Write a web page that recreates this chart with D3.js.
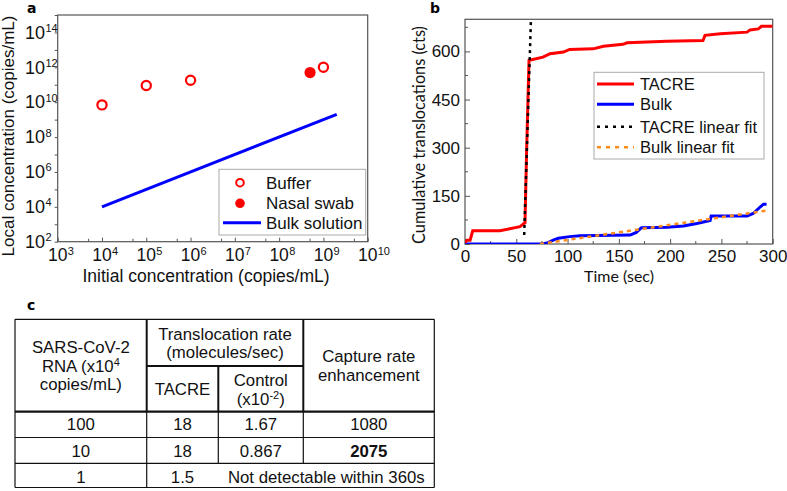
<!DOCTYPE html>
<html><head><meta charset="utf-8">
<script src="https://cdn.jsdelivr.net/npm/d3@7"></script>
<style>
body{margin:0;background:#fff;}
svg{display:block;font-family:"Liberation Sans",Arial,sans-serif;}
</style></head>
<body>
<svg id="c" width="787" height="491"></svg>
<script>
// ---------- Panel a data ----------
const bufferX = [1e4, 1e5, 1e6, 1e9];
const bufferY = [7e9, 9e10, 1.8e11, 1e12];
const swabX = [5e8];
const swabY = [5e11];
const bulkSolX = [1e4, 2e9];
const bulkSolY = [1e4, 2e9];
const aXTicks = [1e3,1e4,1e5,1e6,1e7,1e8,1e9,1e10];
const aYTicks = [1e2,1e4,1e6,1e8,1e10,1e12,1e14];
const aLegend = ["Buffer","Nasal swab","Bulk solution"];

// ---------- Panel b data ----------
const tacreT = [0,2.2,5,7.5,34,49,53.6,57.5,58.5,60,62.4,65,76,83,96,102,125,135,154,158,197,232,234,249,275,278,286,289,300];
const tacreY = [5,12,12,41,41,51,54,64,66,282,572,574,582,593,598,606,608,616,622,627,632,634,650,655,660,667,670,678,678];
const bulkT = [0,75,80,86,91,102,112,161,167,172,197,213,226,239,240,275,281,288,291,294];
const bulkY = [0,0,3,12,18,23,26,28,36,51,52,56,64,73,87,87,95,116,124,124];
const tacreFitT = [57.7, 64.3];
const tacreFitY = [28, 700];
const bulkFitT = [73, 294];
const bulkFitY = [0, 104];
const bXTicks = [0,50,100,150,200,250,300];
const bYTicks = [0,150,300,450,600];
const bLegend = ["TACRE","Bulk","TACRE linear fit","Bulk linear fit"];

// ---------- Panel c data ----------
const tableRows = [["100","18","1.67","1080"],["10","18","0.867","2075"],["1","1.5","Not detectable within 360s"]];

const svg = d3.select("#c");
const axisCol = "#555";

// ================= PANEL A =================
const ax = d3.scaleLog().domain([1e3,1e10]).range([57.7,367.7]);
const ay = d3.scaleLog().domain([1e2,1e15]).range([241.7,15]);
const ga = svg.append("g");
ga.append("rect").attr("x",ax.range()[0]).attr("y",ay.range()[1])
  .attr("width",ax.range()[1]-ax.range()[0]).attr("height",ay.range()[0]-ay.range()[1])
  .attr("fill","none").attr("stroke",axisCol).attr("stroke-width",1.2);
const axMinor = [5e3,5e4,5e5,5e6,5e7,5e8,5e9];
const gax = ga.append("g").attr("transform",`translate(0,${ay.range()[0]})`)
  .call(d3.axisBottom(ax).tickValues(aXTicks).tickSizeInner(-4).tickSizeOuter(0).tickFormat(""));
gax.select(".domain").remove();
gax.selectAll("line").attr("stroke",axisCol);
axMinor.forEach(v=>ga.append("line").attr("x1",ax(v)).attr("x2",ax(v)).attr("y1",ay.range()[0]).attr("y2",ay.range()[0]-3).attr("stroke",axisCol));
aXTicks.forEach(v=>{
  const e = Math.round(Math.log10(v));
  ga.append("text").attr("x",ax(v)).attr("y",261).attr("text-anchor","middle").attr("font-size",17.5).attr("fill","#111").text("10");
  ga.append("text").attr("x",ax(v)+10).attr("y",254.5).attr("font-size",11).attr("fill","#111").text(e);
});
const ayAll = d3.range(2,16).map(e=>Math.pow(10,e));
const gay = ga.append("g").attr("transform",`translate(${ax.range()[0]},0)`)
  .call(d3.axisLeft(ay).tickValues(ayAll).tickSizeInner(3).tickSizeOuter(0).tickFormat(""));
gay.select(".domain").remove();
gay.selectAll("line").attr("stroke",axisCol);
aYTicks.forEach(v=>{
  const e = Math.round(Math.log10(v));
  ga.append("text").attr("x",45).attr("y",ay(v)+6.3).attr("text-anchor","end").attr("font-size",18).attr("fill","#111").text("10");
  ga.append("text").attr("x",45.5).attr("y",ay(v)-0.5).attr("font-size",11).attr("fill","#111").text(e);
});
ga.append("text").attr("transform",`translate(13.5,136) rotate(-90)`).attr("text-anchor","middle")
  .attr("font-size",17).attr("fill","#111").text("Local concentration (copies/mL)");
ga.append("text").attr("x",206).attr("y",281.5).attr("text-anchor","middle")
  .attr("font-size",17.5).attr("fill","#111").text("Initial concentration (copies/mL)");
ga.append("path").datum(bulkSolX.map((x,i)=>[x,bulkSolY[i]]))
  .attr("d",d3.line().x(d=>ax(d[0])).y(d=>ay(d[1])))
  .attr("fill","none").attr("stroke","#0000ff").attr("stroke-width",3);
ga.selectAll(".buf").data(bufferX.map((x,i)=>[x,bufferY[i]])).enter().append("circle")
  .attr("cx",d=>ax(d[0])).attr("cy",d=>ay(d[1])).attr("r",4.6)
  .attr("fill","#fff").attr("stroke","#ff0000").attr("stroke-width",2.2);
ga.selectAll(".swab").data(swabX.map((x,i)=>[x,swabY[i]])).enter().append("circle")
  .attr("cx",d=>ax(d[0])).attr("cy",d=>ay(d[1])).attr("r",5.6).attr("fill","#ff0000");
ga.append("rect").attr("x",219).attr("y",169.3).attr("width",146.7).attr("height",65.7)
  .attr("fill","#fff").attr("stroke","#aaa").attr("stroke-width",1);
const aLegY = [182.7,203.3,222.7];
ga.append("circle").attr("cx",240).attr("cy",aLegY[0]).attr("r",3.8).attr("fill","#fff").attr("stroke","#ff0000").attr("stroke-width",2);
ga.append("circle").attr("cx",240).attr("cy",aLegY[1]).attr("r",4.8).attr("fill","#ff0000");
ga.append("line").attr("x1",223).attr("x2",261).attr("y1",aLegY[2]).attr("y2",aLegY[2]).attr("stroke","#0000ff").attr("stroke-width",3);
aLegend.forEach((s,i)=>ga.append("text").attr("x",266).attr("y",aLegY[i]+6).attr("font-size",17).attr("fill","#111").text(s));
svg.append("text").attr("x",27).attr("y",12.5).attr("font-size",14).attr("font-weight","bold").attr("font-family","'DejaVu Sans',sans-serif").text("a");

// ================= PANEL B =================
const bx = d3.scaleLinear().domain([0,300]).range([465,772.7]);
const by = d3.scaleLinear().domain([0,700]).range([244,19.3]);
const gb = svg.append("g");
gb.append("defs").append("clipPath").attr("id","bclip").append("rect")
  .attr("x",bx.range()[0]).attr("y",by.range()[1]).attr("width",bx.range()[1]-bx.range()[0]).attr("height",by.range()[0]-by.range()[1]);
gb.append("rect").attr("x",bx.range()[0]).attr("y",by.range()[1])
  .attr("width",bx.range()[1]-bx.range()[0]).attr("height",by.range()[0]-by.range()[1])
  .attr("fill","none").attr("stroke",axisCol).attr("stroke-width",1.2);
const gbx = gb.append("g").attr("transform",`translate(0,${by.range()[0]})`)
  .call(d3.axisBottom(bx).tickValues(bXTicks).tickSizeInner(-5).tickSizeOuter(0).tickPadding(0));
gbx.select(".domain").remove();
gbx.selectAll("line").attr("stroke",axisCol);
gbx.selectAll("text").attr("font-size",17).attr("fill","#111").attr("font-family","'Liberation Sans',Arial,sans-serif").attr("y",18).attr("dy",null);
d3.range(25,300,50).forEach(v=>gb.append("line").attr("x1",bx(v)).attr("x2",bx(v)).attr("y1",by(0)).attr("y2",by(0)-3).attr("stroke",axisCol));
const gby = gb.append("g").attr("transform",`translate(${bx.range()[0]},0)`)
  .call(d3.axisLeft(by).tickValues(bYTicks).tickSizeInner(-5).tickSizeOuter(0).tickPadding(5));
gby.select(".domain").remove();
gby.selectAll("line").attr("stroke",axisCol);
gby.selectAll("text").attr("font-size",17).attr("fill","#111").attr("font-family","'Liberation Sans',Arial,sans-serif");
d3.range(75,700,150).forEach(v=>gb.append("line").attr("x1",bx(0)).attr("x2",bx(0)+3).attr("y1",by(v)).attr("y2",by(v)).attr("stroke",axisCol));
gb.append("text").attr("transform",`translate(425,135) rotate(-90)`).attr("text-anchor","middle")
  .attr("font-size",16.3).attr("font-family","Lato,sans-serif").attr("fill","#111").text("Cumulative translocations (cts)");
gb.append("text").attr("x",619).attr("y",281.5).attr("text-anchor","middle")
  .attr("font-size",16).attr("font-family","Lato,sans-serif").attr("fill","#111").text("Time (sec)");
const lineB = d3.line().x(d=>bx(d[0])).y(d=>by(d[1]));
const pc = gb.append("g").attr("clip-path","url(#bclip)");
pc.append("path").datum(bulkT.map((t,i)=>[t,bulkY[i]])).attr("d",lineB)
  .attr("fill","none").attr("stroke","#0000ff").attr("stroke-width",3);
pc.append("path").datum(bulkFitT.map((t,i)=>[t,bulkFitY[i]])).attr("d",lineB)
  .attr("fill","none").attr("stroke","#ff8c1a").attr("stroke-width",2.5).attr("stroke-dasharray","4,4");
pc.append("path").datum(tacreT.map((t,i)=>[t,tacreY[i]])).attr("d",lineB)
  .attr("fill","none").attr("stroke","#ff0000").attr("stroke-width",3);
pc.append("path").datum(tacreFitT.map((t,i)=>[t,tacreFitY[i]])).attr("d",lineB)
  .attr("fill","none").attr("stroke","#000").attr("stroke-width",2.5).attr("stroke-dasharray","3,4");
gb.append("rect").attr("x",594).attr("y",72.3).attr("width",170).attr("height",86.7)
  .attr("fill","#fff").attr("stroke","#aaa").attr("stroke-width",1);
const bLegY = [84,104.3,126.7,147.3];
const bLegStyle = [["#ff0000",3,null],["#0000ff",3,null],["#000",2.5,"3,5"],["#ff8c1a",2.5,"4,5"]];
bLegend.forEach((s,i)=>{
  const l = gb.append("line").attr("x1",597).attr("x2",634).attr("y1",bLegY[i]).attr("y2",bLegY[i])
    .attr("stroke",bLegStyle[i][0]).attr("stroke-width",bLegStyle[i][1]);
  if(bLegStyle[i][2]) l.attr("stroke-dasharray",bLegStyle[i][2]);
  gb.append("text").attr("x",640).attr("y",bLegY[i]+6).attr("font-size",16.5).attr("fill","#111").text(s);
});
svg.append("text").attr("x",430).attr("y",13).attr("font-size",14).attr("font-weight","bold").attr("font-family","'DejaVu Sans',sans-serif").text("b");

// ================= PANEL C (table) =================
const gc = svg.append("g");
svg.append("text").attr("x",27).attr("y",310).attr("font-size",14).attr("font-weight","bold").attr("font-family","'DejaVu Sans',sans-serif").text("c");
const colX = [15,146.7,218.3,303.3,434.3];
const rowY = [319.3,366,411.7,437.5,463.3,487.5];
const L = (x1,y1,x2,y2,w)=>gc.append("line").attr("x1",x1).attr("y1",y1).attr("x2",x2).attr("y2",y2).attr("stroke","#111").attr("stroke-width",w);
L(colX[0],rowY[0],colX[4],rowY[0],1.2);
L(colX[0],rowY[5],colX[4],rowY[5],1.2);
L(colX[0],rowY[0],colX[0],rowY[5],1.2);
L(colX[4],rowY[0],colX[4],rowY[5],1.2);
L(colX[1],rowY[0],colX[1],rowY[2],2);
L(colX[1],rowY[2],colX[1],rowY[5],1.2);
L(colX[1],rowY[1],colX[3],rowY[1],2);
L(colX[3],rowY[0],colX[3],rowY[2],2);
L(colX[3],rowY[2],colX[3],rowY[4],1.2);
L(colX[2],rowY[1],colX[2],rowY[2],2);
L(colX[2],rowY[2],colX[2],rowY[4],1.2);
L(colX[0],rowY[2],colX[4],rowY[2],2.2);
L(colX[0],rowY[3],colX[4],rowY[3],1.2);
L(colX[0],rowY[4],colX[4],rowY[4],1.2);
const T = (x,y,s,bold)=>{const t=gc.append("text").attr("x",x).attr("y",y).attr("text-anchor","middle").attr("font-size",16.8).attr("fill","#111"); if(bold) t.attr("font-weight","bold"); if(s!==null) t.text(s); return t;};
const cx = i=>(colX[i]+colX[i+1])/2;
T(cx(0),352.7,"SARS-CoV-2");
const rna = T(cx(0),371.7,null); rna.append("tspan").text("RNA (x10"); rna.append("tspan").attr("dy",-6).attr("font-size",11).text("4");
T(cx(0),389.5,"copies/mL)");
T((colX[1]+colX[3])/2,340,"Translocation rate");
T((colX[1]+colX[3])/2,358.3,"(molecules/sec)");
T(cx(1),395,"TACRE");
T(cx(2),386.2,"Control");
const ctl = T(cx(2),405,null); ctl.append("tspan").text("(x10"); ctl.append("tspan").attr("dy",-6).attr("font-size",11).text("-2"); ctl.append("tspan").attr("dy",6).text(")");
T(cx(3),361.7,"Capture rate");
T(cx(3),381.2,"enhancement");
const rowBase = [429.5,456.5,482.5];
tableRows.forEach((r,i)=>{
  if(r.length===4){ r.forEach((s,j)=>T(cx(j),rowBase[i],s,i===1&&j===3)); }
  else { T(cx(0),rowBase[i],r[0]); T(cx(1),rowBase[i],r[1]); T((colX[2]+colX[4])/2,rowBase[i],r[2]); }
});
</script>
</body></html>
